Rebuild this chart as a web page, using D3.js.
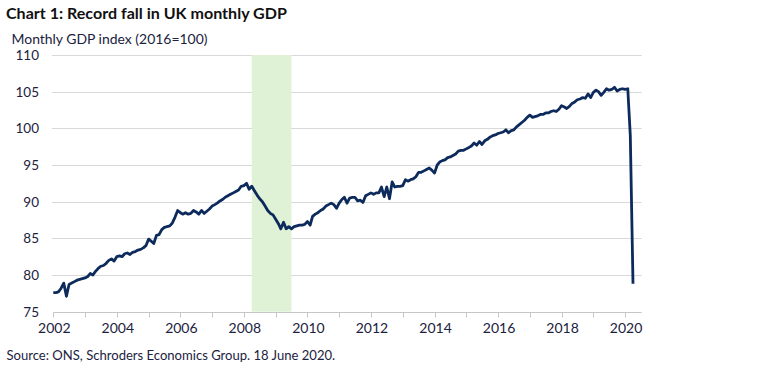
<!DOCTYPE html>
<html>
<head>
<meta charset="utf-8">
<script src="https://cdn.jsdelivr.net/npm/d3@7"></script>
<style>
  body { margin: 0; background: #fff; }
  text { font-family: Lato, "Open Sans", sans-serif; }
</style>
</head>
<body>
<svg id="chart" width="770" height="371"></svg>
<script>
// Monthly GDP index (2016=100), Jan 2002 .. Apr 2020
const startYear = 2002;
const gdpIndex = [
  77.6, 77.6, 77.7, 78.2, 78.9, 77.1, 78.7, 78.9, 79.1, 79.3, 79.4, 79.5, // 2002
  79.6, 79.8, 80.2, 80.0, 80.5, 80.9, 81.2, 81.3, 81.6, 82.0, 82.2, 81.9, // 2003
  82.5, 82.6, 82.5, 82.9, 83.0, 82.8, 83.1, 83.2, 83.4, 83.5, 83.7, 84.0, // 2004
  84.9, 84.6, 84.3, 85.4, 85.5, 86.2, 86.5, 86.6, 86.7, 87.1, 87.9, 88.8, // 2005
  88.5, 88.3, 88.5, 88.3, 88.4, 88.8, 88.6, 88.3, 88.8, 88.4, 88.7, 89.0, // 2006
  89.4, 89.6, 89.8, 90.1, 90.3, 90.6, 90.8, 91.0, 91.2, 91.4, 91.6, 92.1, // 2007
  92.2, 92.5, 91.7, 92.1, 91.5, 90.9, 90.4, 90.0, 89.4, 88.8, 88.4, 88.2, // 2008
  87.6, 87.0, 86.3, 87.2, 86.3, 86.6, 86.3, 86.6, 86.7, 86.8, 86.8, 86.9, // 2009
  87.3, 86.8, 88.0, 88.3, 88.5, 88.8, 89.0, 89.4, 89.6, 89.8, 89.6, 89.1, // 2010
  89.8, 90.3, 90.6, 89.8, 90.5, 90.6, 90.6, 90.1, 90.2, 89.9, 90.8, 91.0, // 2011
  91.2, 91.0, 91.2, 91.2, 92.0, 90.7, 92.0, 90.4, 92.7, 92.0, 92.1, 92.1, // 2012
  92.2, 93.0, 92.8, 93.0, 93.1, 93.4, 94.0, 94.0, 94.2, 94.4, 94.6, 94.3, // 2013
  93.9, 95.0, 95.4, 95.6, 95.7, 96.0, 96.1, 96.3, 96.5, 96.9, 97.0, 97.0, // 2014
  97.2, 97.4, 97.6, 98.0, 97.7, 98.2, 97.8, 98.3, 98.5, 98.8, 99.0, 99.1, // 2015
  99.3, 99.4, 99.5, 99.8, 99.4, 99.7, 99.8, 100.2, 100.5, 100.8, 101.1, 101.5, // 2016
  101.8, 101.5, 101.6, 101.7, 101.9, 101.9, 102.1, 102.1, 102.3, 102.4, 102.3, 102.6, // 2017
  103.1, 102.9, 102.7, 103.0, 103.4, 103.6, 103.9, 104.0, 104.2, 104.1, 104.7, 104.2, // 2018
  104.9, 105.2, 105.0, 104.5, 104.9, 105.4, 105.2, 105.3, 105.6, 105.1, 105.3, 105.4, // 2019
  105.3, 105.4, 99.0, 78.8 // 2020
];

// recession shading (2008 Q2 - 2009 Q2)
const recession = [new Date(2008, 3, 1), new Date(2009, 6, 1)];

const yTicks = [75, 80, 85, 90, 95, 100, 105, 110];
const xTickYears = d3.range(2002, 2021);
const xLabelYears = d3.range(2002, 2021, 2);

const data = gdpIndex.map((v, i) => ({
  date: new Date(startYear, i, 1),
  value: v,
}));

const svg = d3.select('#chart');
svg.append('rect').attr('width', 770).attr('height', 371).attr('fill', '#fff');

const x = d3
  .scaleTime()
  .domain([new Date(2002, 0, 1), new Date(2020, 6, 10)])
  .range([53.3, 641.7]);

const y = d3.scaleLinear().domain([75, 110]).range([311.7, 55]);

// fit a text element to a measured width by scaling its font size
function fitWidth(sel, target) {
  const w = sel.node().getComputedTextLength();
  const fs = parseFloat(sel.attr('font-size'));
  sel.attr('font-size', (fs * target) / w);
}

// gridlines
svg
  .append('g')
  .selectAll('line')
  .data(yTicks.filter((d) => d > 75))
  .enter()
  .append('line')
  .attr('x1', x.range()[0] - 1.5)
  .attr('x2', x.range()[1])
  .attr('y1', (d) => Math.round(y(d)) + 0.5)
  .attr('y2', (d) => Math.round(y(d)) + 0.5)
  .attr('stroke', '#d9d9d9')
  .attr('stroke-width', 1);

// recession band
svg
  .append('rect')
  .attr('x', x(recession[0]))
  .attr('width', x(recession[1]) - x(recession[0]))
  .attr('y', y(110))
  .attr('height', y(75) - y(110))
  .attr('fill', '#dff2d6');

// x axis line and yearly ticks
const axisY = Math.round(y(75)) + 0.5;
const xAxis = svg.append('g');
xAxis
  .append('line')
  .attr('x1', x.range()[0])
  .attr('x2', x.range()[1])
  .attr('y1', axisY)
  .attr('y2', axisY)
  .attr('stroke', '#c6c6c6');
xAxis
  .selectAll('line.tick')
  .data(xTickYears)
  .enter()
  .append('line')
  .attr('class', 'tick')
  .attr('x1', (d) => Math.round(x(new Date(d, 0, 1))) + 0.5)
  .attr('x2', (d) => Math.round(x(new Date(d, 0, 1))) + 0.5)
  .attr('y1', axisY)
  .attr('y2', axisY + 5)
  .attr('stroke', '#c6c6c6');
xAxis
  .selectAll('text')
  .data(xLabelYears)
  .enter()
  .append('text')
  .attr('x', (d) => x(new Date(d, 0, 1)) + 1)
  .attr('y', 333)
  .attr('text-anchor', 'middle')
  .attr('font-size', 14)
  .attr('fill', '#1b2240')
  .text((d) => d);

// y labels
svg
  .append('g')
  .selectAll('text')
  .data(yTicks)
  .enter()
  .append('text')
  .attr('x', 39)
  .attr('y', (d) => y(d))
  .attr('dy', '0.36em')
  .attr('text-anchor', 'end')
  .attr('font-size', 13.5)
  .attr('fill', '#1b2240')
  .text((d) => d);

// GDP line
const line = d3
  .line()
  .x((d) => x(d.date))
  .y((d) => y(d.value));

svg
  .append('path')
  .datum(data)
  .attr('d', line)
  .attr('fill', 'none')
  .attr('stroke', '#0c2a5b')
  .attr('stroke-width', 2.8)
  .attr('stroke-linejoin', 'round');

// titles and source
const title = svg
  .append('text')
  .attr('x', 6)
  .attr('y', 18.5)
  .attr('font-size', 14)
  .attr('font-weight', 'bold')
  .attr('fill', '#111')
  .text('Chart 1: Record fall in UK monthly GDP');
fitWidth(title, 281);

const subtitle = svg
  .append('text')
  .attr('x', 11.5)
  .attr('y', 43.5)
  .attr('font-size', 13)
  .attr('fill', '#1b2240')
  .text('Monthly GDP index (2016=100)');
fitWidth(subtitle, 196);

const source = svg
  .append('text')
  .attr('x', 6.5)
  .attr('y', 360)
  .attr('font-size', 12)
  .attr('fill', '#1b2240')
  .text('Source: ONS, Schroders Economics Group. 18 June 2020.');
fitWidth(source, 329);
</script>
</body>
</html>
